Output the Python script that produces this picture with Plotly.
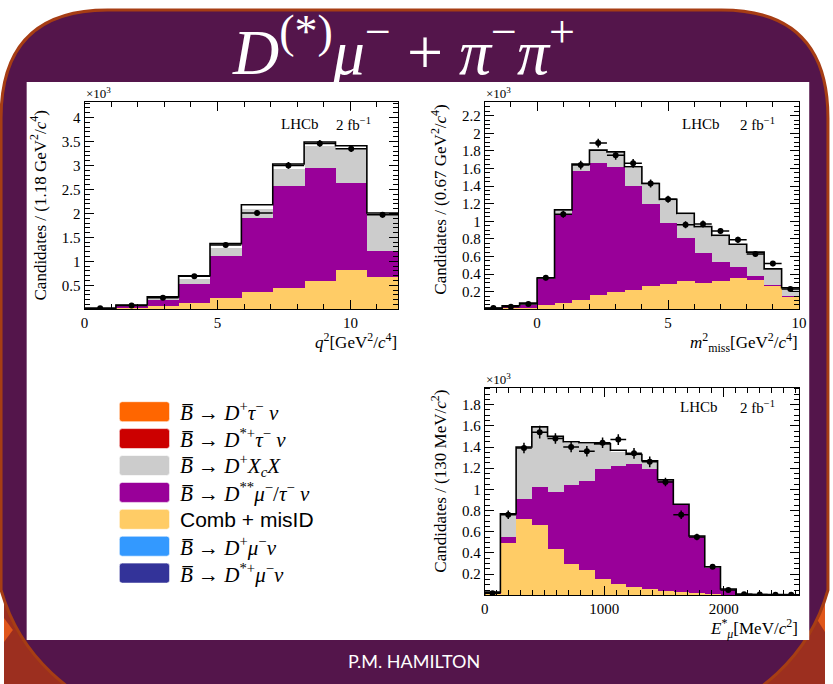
import numpy as np
import plotly.graph_objects as go

W, H = 833, 684

# ---------------- data (values in units of 10^3 candidates) ----------------
# q^2 distribution, 10 bins of 1.18 GeV^2/c^4
q2_width = 1.18
q2_nbins = 10
q2_data = [0.02, 0.08, 0.24, 0.69, 1.34, 2.01, 3.00, 3.46, 3.35, 1.97]
q2_err = [0.01, 0.02, 0.03, 0.04, 0.05, 0.06, 0.07, 0.07, 0.07, 0.06]
q2_comb_top = [0.01, 0.03, 0.08, 0.14, 0.24, 0.37, 0.46, 0.60, 0.82, 0.68]
q2_dss_top = [0.015, 0.07, 0.20, 0.54, 1.11, 1.91, 2.57, 2.96, 2.64, 1.22]
q2_xcx_top = [0.02, 0.08, 0.24, 0.64, 1.29, 2.10, 2.93, 3.42, 3.38, 1.98]
q2_total = [0.02, 0.09, 0.26, 0.70, 1.37, 2.18, 3.03, 3.49, 3.41, 2.01]

# m^2_miss distribution, 18 bins of 0.67 GeV^2/c^4 starting at -2
mm_start = -2.0
mm_width = 12.0 / 18
mm_nbins = 18
mm_data = [0.015, 0.03, 0.06, 0.36, 1.08, 1.64, 1.89, 1.75, 1.66, 1.43,
           1.25, 0.96, 0.97, 0.89, 0.79, 0.63, 0.52, 0.23]
mm_err = [0.01, 0.015, 0.02, 0.03, 0.04, 0.05, 0.05, 0.05, 0.05, 0.045,
          0.04, 0.04, 0.04, 0.035, 0.035, 0.03, 0.03, 0.02]
mm_comb_top = [0.005, 0.01, 0.02, 0.05, 0.075, 0.11, 0.17, 0.20, 0.225, 0.265,
               0.29, 0.33, 0.30, 0.33, 0.355, 0.34, 0.265, 0.145]
mm_dss_top = [0.01, 0.025, 0.055, 0.35, 1.08, 1.57, 1.67, 1.62, 1.40, 1.20,
              0.98, 0.81, 0.64, 0.54, 0.48, 0.385, 0.275, 0.16]
mm_xcx_top = [0.01, 0.035, 0.065, 0.35, 1.12, 1.64, 1.80, 1.78, 1.61, 1.42,
              1.24, 1.08, 0.93, 0.83, 0.73, 0.64, 0.45, 0.235]
mm_total = [0.01, 0.04, 0.07, 0.355, 1.13, 1.65, 1.81, 1.79, 1.62, 1.43,
            1.25, 1.09, 0.94, 0.84, 0.74, 0.65, 0.46, 0.245]

# E*_mu distribution, 20 bins
em_width = 131.5
em_nbins = 20
em_data = [0.02, 0.76, 1.39, 1.54, 1.48, 1.40, 1.36, 1.44, 1.47, 1.34,
           1.26, 1.07, 0.76, 0.55, 0.27, 0.05, 0.01, 0.008, 0.005, 0.005]
em_err = [0.01, 0.04, 0.05, 0.06, 0.05, 0.05, 0.05, 0.05, 0.05, 0.05,
          0.05, 0.04, 0.04, 0.03, 0.02, 0.01, 0.005, 0.005, 0.005, 0.005]
em_comb_top = [0.01, 0.50, 0.72, 0.67, 0.44, 0.30, 0.24, 0.16, 0.11, 0.08,
               0.06, 0.04, 0.03, 0.02, 0.015, 0.005, 0.003, 0.002, 0.001, 0.001]
em_dss_top = [0.02, 0.55, 0.91, 1.03, 0.98, 1.04, 1.085, 1.20, 1.22, 1.24,
              1.20, 1.08, 0.855, 0.555, 0.265, 0.055, 0.007, 0.005, 0.003, 0.002]
em_xcx_top = [0.025, 0.76, 1.39, 1.58, 1.49, 1.44, 1.43, 1.42, 1.36, 1.32,
              1.26, 1.08, 0.855, 0.555, 0.265, 0.055, 0.008, 0.006, 0.004, 0.003]
em_total = [0.03, 0.77, 1.40, 1.59, 1.50, 1.45, 1.44, 1.43, 1.37, 1.33,
            1.27, 1.09, 0.86, 0.56, 0.27, 0.06, 0.01, 0.008, 0.006, 0.005]

legend_labels = [
    "<i>B\u0305</i> \u2192 <i>D</i><sup>+</sup><i>\u03c4</i><sup>\u2212</sup> <i>\u03bd</i>",
    "<i>B\u0305</i> \u2192 <i>D</i><sup>*+</sup><i>\u03c4</i><sup>\u2212</sup> <i>\u03bd</i>",
    "<i>B\u0305</i> \u2192 <i>D</i><sup>+</sup><i>X</i><sub><i>c</i></sub><i>X</i>",
    "<i>B\u0305</i> \u2192 <i>D</i><sup>**</sup><i>\u03bc</i><sup>\u2212</sup>/<i>\u03c4</i><sup>\u2212</sup> <i>\u03bd</i>",
    "Comb + misID",
    "<i>B\u0305</i> \u2192 <i>D</i><sup>+</sup><i>\u03bc</i><sup>\u2212</sup><i>\u03bd</i>",
    "<i>B\u0305</i> \u2192 <i>D</i><sup>*+</sup><i>\u03bc</i><sup>\u2212</sup><i>\u03bd</i>",
]
legend_colors = ["#ff6600", "#cc0000", "#cccccc", "#990099", "#ffcc66", "#3399ff", "#333399"]

C_COMB, C_DSS, C_XCX = "#ffcc66", "#990099", "#cccccc"
SERIF = "Liberation Serif"
PURPLE = "#54154b"
BORDER = "#a63d14"
RUST = "#9c2f1f"


def px(x):
    return x / W


def py(y):
    return 1 - y / H


fig = go.Figure()


def add_hist(edges, comb, dss, xcx, total, data, err, width, xa, ya):
    left = edges[:-1]
    centers = left + width / 2
    for tops, col in ((xcx, C_XCX), (dss, C_DSS), (comb, C_COMB)):
        fig.add_trace(go.Bar(x=left, y=tops, width=[width] * len(tops), offset=0,
                             marker=dict(color=col, line=dict(width=0)),
                             xaxis=xa, yaxis=ya, showlegend=False, hoverinfo="skip"))
    xs, ys = [edges[0]], [0]
    for i, v in enumerate(total):
        xs += [edges[i], edges[i + 1]]
        ys += [v, v]
    fig.add_trace(go.Scatter(x=xs, y=ys, mode="lines", line=dict(color="black", width=1.6),
                             xaxis=xa, yaxis=ya, showlegend=False, hoverinfo="skip"))
    fig.add_trace(go.Scatter(
        x=centers, y=data, mode="markers",
        marker=dict(color="black", size=6),
        error_y=dict(type="data", array=err, thickness=1.5, width=0, color="black"),
        error_x=dict(type="constant", value=width / 2, thickness=1.5, width=0, color="black"),
        xaxis=xa, yaxis=ya, showlegend=False))


q2_edges = np.arange(q2_nbins + 1) * q2_width
mm_edges = mm_start + np.arange(mm_nbins + 1) * mm_width
em_edges = np.arange(em_nbins + 1) * em_width

add_hist(q2_edges, q2_comb_top, q2_dss_top, q2_xcx_top, q2_total, q2_data, q2_err, q2_width, "x", "y")
add_hist(mm_edges, mm_comb_top, mm_dss_top, mm_xcx_top, mm_total, mm_data, mm_err, mm_width, "x2", "y2")
add_hist(em_edges, em_comb_top, em_dss_top, em_xcx_top, em_total, em_data, em_err, em_width, "x3", "y3")


def axis(domain, rng, vals, texts, minor_dtick, minor_tick0, anchor):
    return dict(
        domain=domain, range=rng, anchor=anchor,
        tickmode="array", tickvals=vals, ticktext=texts,
        ticks="inside", ticklen=9, tickwidth=1, tickcolor="black",
        showline=True, linecolor="black", linewidth=1, mirror="allticks",
        showgrid=False, zeroline=False,
        minor=dict(dtick=minor_dtick, tick0=minor_tick0, ticks="inside", ticklen=5,
                   tickwidth=1, tickcolor="black", showgrid=False),
        tickfont=dict(family=SERIF, size=15, color="black"),
    )


xd_left = [px(81.7), px(400)]
xd_right = [px(487.7), px(806.7)]
yd_top = [py(309.3), py(101.7)]
yd_bot = [py(595.3), py(387.7)]

fig.update_layout(
    xaxis=axis(xd_left, [0, q2_nbins * q2_width], [0, 5, 10], ["0", "5", "10"], 1, 0, "y"),
    yaxis=axis(yd_top, [0, 4.33], [0.5, 1, 1.5, 2, 2.5, 3, 3.5, 4],
               ["0.5", "1", "1.5", "2", "2.5", "3", "3.5", "4"], 0.1, 0, "x"),
    xaxis2=axis(xd_right, [mm_start, mm_edges[-1]], [0, 5, 10], ["0", "5", "10"], 1, 0, "y2"),
    yaxis2=axis(yd_top, [0, 2.36], [0.2, 0.4, 0.6, 0.8, 1, 1.2, 1.4, 1.6, 1.8, 2, 2.2],
                ["0.2", "0.4", "0.6", "0.8", "1", "1.2", "1.4", "1.6", "1.8", "2", "2.2"], 0.05, 0, "x2"),
    xaxis3=axis(xd_right, [0, em_nbins * em_width], [0, 1000, 2000], ["0", "1000", "2000"], 100, 0, "y3"),
    yaxis3=axis(yd_bot, [0, 1.96], [0.2, 0.4, 0.6, 0.8, 1, 1.2, 1.4, 1.6, 1.8],
                ["0.2", "0.4", "0.6", "0.8", "1", "1.2", "1.4", "1.6", "1.8"], 0.05, 0, "x3"),
)

# ---------------- slide background ----------------
shapes = []
# rust band behind the lower corners
shapes.append(dict(type="rect", xref="paper", yref="paper", x0=0, x1=1, y0=0, y1=py(560),
                   fillcolor=RUST, line=dict(width=0), layer="below"))
# bright orange slivers at the lower corners
shapes.append(dict(type="path", xref="paper", yref="paper",
                   path=f"M {px(0)},{py(618)} L {px(9)},{py(630)} L {px(0)},{py(642)} Z",
                   fillcolor="#e0561a", line=dict(width=0), layer="below"))
shapes.append(dict(type="path", xref="paper", yref="paper",
                   path=f"M {px(833)},{py(600)} L {px(824)},{py(618)} L {px(833)},{py(632)} Z",
                   fillcolor="#e0561a", line=dict(width=0), layer="below"))

# purple rounded panel
L, R, T, B = -3, 836, 10, 730
rt = 108
panel = (f"M {px(L)},{py(T + rt)} "
         f"Q {px(L)},{py(T)} {px(L + rt)},{py(T)} "
         f"L {px(R - rt)},{py(T)} "
         f"Q {px(R)},{py(T)} {px(R)},{py(T + rt)} "
         f"L {px(R)},{py(590)} "
         f"C {px(R - 20)},{py(660)} {px(R - 70)},{py(695)} {px(R - 140)},{py(B)} "
         f"L {px(L + 140)},{py(B)} "
         f"C {px(L + 70)},{py(695)} {px(L + 20)},{py(660)} {px(L)},{py(590)} Z")
shapes.append(dict(type="path", xref="paper", yref="paper", path=panel,
                   fillcolor=PURPLE, line=dict(color=BORDER, width=3), layer="below"))
# white content area
shapes.append(dict(type="rect", xref="paper", yref="paper", x0=px(23), x1=px(817),
                   y0=py(640), y1=py(82), fillcolor="white", line=dict(width=0), layer="below"))

# legend swatches
row0, dy = 411.7, 26.9
bx0, bx1, bh, r = 117, 168, 20, 3
for k, col in enumerate(legend_colors):
    yc = row0 + k * dy
    t, b = yc - bh / 2, yc + bh / 2
    p = (f"M {px(bx0 + r)},{py(t)} L {px(bx1 - r)},{py(t)} Q {px(bx1)},{py(t)} {px(bx1)},{py(t + r)} "
         f"L {px(bx1)},{py(b - r)} Q {px(bx1)},{py(b)} {px(bx1 - r)},{py(b)} "
         f"L {px(bx0 + r)},{py(b)} Q {px(bx0)},{py(b)} {px(bx0)},{py(b - r)} "
         f"L {px(bx0)},{py(t + r)} Q {px(bx0)},{py(t)} {px(bx0 + r)},{py(t)} Z")
    shapes.append(dict(type="path", xref="paper", yref="paper", path=p, fillcolor=col,
                       line=dict(color="rgba(255,255,255,0.6)", width=1), layer="above"))

fig.update_layout(shapes=shapes)

# ---------------- text ----------------
ann = []


def text(x, y, s, size, color="black", family=SERIF, xanchor="center", yanchor="middle", angle=0):
    ann.append(dict(x=px(x), y=py(y), xref="paper", yref="paper", text=s, showarrow=False,
                    xanchor=xanchor, yanchor=yanchor, textangle=angle,
                    font=dict(family=family, size=size, color=color)))


big = "<span style='font-size:46px'>{}</span>"
title = ("<i>D</i><sup>" + big.format("(*)") + "</sup><i>\u03bc</i><sup>" + big.format("\u2212")
         + "</sup> + <i>\u03c0</i><sup>" + big.format("\u2212") + "</sup><i>\u03c0</i><sup>"
         + big.format("+") + "</sup>")
text(405, 47, title, 64, color="white")
text(416, 661, "P.M. HAMILTON", 18, color="white", family="Lato")

# y-axis titles
text(35, 205, "Candidates / (1.18 GeV<sup>2</sup>/<i>c</i><sup>4</sup>)", 17, angle=-90)
text(441, 200, "Candidates / (0.67 GeV<sup>2</sup>/<i>c</i><sup>4</sup>)", 17, angle=-90)
text(441, 481, "Candidates / (130 MeV/<i>c</i><sup>2</sup>)", 17, angle=-90)

# x-axis titles
text(401, 341, "<i>q</i><sup>2</sup>[GeV<sup>2</sup>/<i>c</i><sup>4</sup>]", 17, xanchor="right")
text(808, 342, "<i>m</i><sup>2</sup><sub>miss</sub>[GeV<sup>2</sup>/<i>c</i><sup>4</sup>]", 17, xanchor="right")
text(808, 628, "<i>E</i><sup>*</sup><sub><i>\u03bc</i></sub>[MeV/<i>c</i><sup>2</sup>]", 17, xanchor="right")

# exponent labels
for x0, y0 in ((81, 93), (487, 93), (487, 379)):
    text(x0, y0, "\u00d710<sup>3</sup>", 13, xanchor="left")

# experiment labels
for xl, xf, yl in ((300, 355, 124), (707, 765, 124), (705, 765, 407)):
    text(xl, yl, "LHCb", 15)
    text(xf, yl, "2 fb<sup>\u22121</sup>", 15)

# legend labels
for k, lab in enumerate(legend_labels):
    fam = "Liberation Sans" if "Comb" in lab else SERIF
    text(177, row0 + k * dy, lab, 21, family=fam, xanchor="left")

fig.update_layout(
    annotations=ann,
    width=W, height=H, autosize=False,
    margin=dict(l=0, r=0, t=0, b=0),
    paper_bgcolor="white", plot_bgcolor="rgba(0,0,0,0)",
    barmode="overlay", bargap=0,
    showlegend=False,
)

fig.write_html("out.html")
